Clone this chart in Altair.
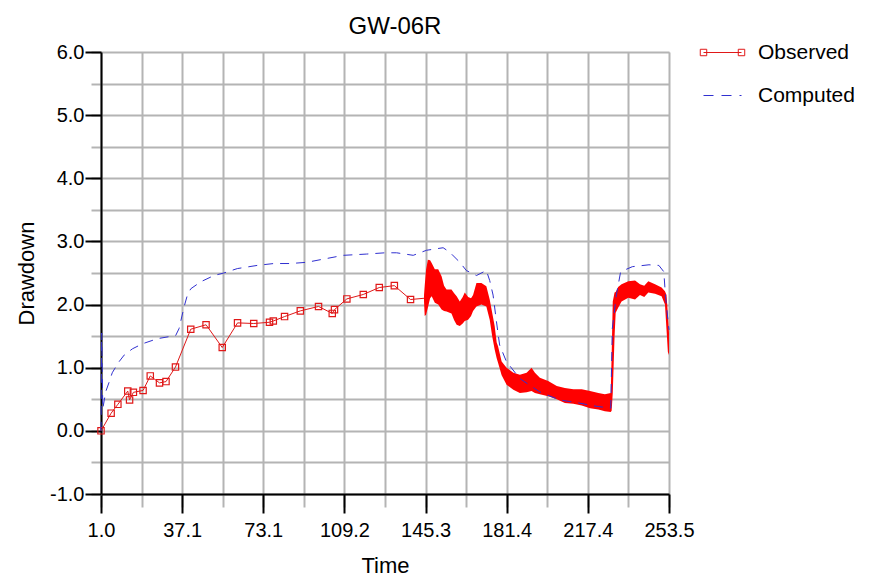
import altair as alt
import pandas as pd

# ---------------- data ----------------
# Observed (sparse, with square markers)
obs_t = [1.0, 5.5, 8.5, 12.9, 13.7, 15.4, 19.7, 22.9, 27.0, 29.9, 34.1, 40.9, 47.7,
         54.9, 61.7, 68.9, 75.9, 77.6, 82.6, 89.6, 97.7, 103.8, 104.8, 110.3, 117.6,
         124.7, 131.4, 138.6]
obs_y = [0.00, 0.28, 0.42, 0.63, 0.49, 0.61, 0.64, 0.87, 0.76, 0.78, 1.01, 1.61, 1.68,
         1.32, 1.71, 1.70, 1.72, 1.74, 1.81, 1.90, 1.97, 1.86, 1.92, 2.09, 2.16,
         2.27, 2.30, 2.08]
# joining segment into the dense record
link_t = [144.6]
link_y = [2.10]

# Observed (dense, high-frequency record): lower / upper envelope
band_t = [144.6, 144.9, 145.5, 146.3, 147.3, 148.0, 149.4, 150.9, 152.4, 153.5, 154.6,
          156.8, 158.0, 159.1, 160.5, 161.8, 162.7, 164.2, 165.5, 166.4, 167.9, 170.1,
          172.3, 173.8, 174.9, 176.0, 176.9, 177.5, 179.1, 181.3, 184.3, 187.2, 190.2,
          192.4, 193.9, 196.1, 199.8, 203.6, 207.2, 211.0, 214.7, 218.4, 222.1, 225.0,
          227.6, 228.0, 228.5, 229.3, 229.8, 230.9, 232.4, 235.4, 238.4, 240.6, 242.5,
          244.3, 247.3, 250.2, 251.7, 252.4, 253.0, 253.5]
band_lo = [2.05, 1.82, 1.84, 1.95, 2.10, 2.13, 2.03, 2.00, 1.92, 1.90, 1.89,
           1.86, 1.75, 1.68, 1.66, 1.70, 1.74, 1.76, 1.82, 1.90, 1.97, 2.00,
           1.97, 1.76, 1.50, 1.29, 1.15, 1.08, 0.88, 0.73, 0.65, 0.60, 0.61,
           0.63, 0.60, 0.58, 0.55, 0.50, 0.44, 0.43, 0.40, 0.36, 0.34, 0.31,
           0.30, 0.32, 0.60, 1.50, 1.87, 1.95, 2.05, 2.11, 2.08, 2.15, 2.12,
           2.19, 2.17, 2.13, 2.00, 1.60, 1.25, 1.20]
band_hi = [2.15, 2.30, 2.55, 2.71, 2.70, 2.66, 2.56, 2.56, 2.45, 2.30, 2.24,
           2.24, 2.18, 2.13, 2.05, 2.12, 2.19, 2.12, 2.10, 2.15, 2.34, 2.34,
           2.29, 2.08, 1.87, 1.66, 1.40, 1.34, 1.10, 1.00, 0.92, 0.89, 0.92,
           1.00, 0.92, 0.84, 0.79, 0.71, 0.68, 0.66, 0.66, 0.63, 0.60, 0.58,
           0.60, 1.20, 2.05, 2.19, 2.20, 2.28, 2.32, 2.37, 2.38, 2.32, 2.30,
           2.37, 2.32, 2.27, 2.21, 2.15, 1.85, 1.55]

# Computed
comp_t = [1.0, 1.3, 1.8, 3.1, 4.6, 6.0, 8.7, 11.3, 15.0, 19.5, 26.1, 34.2, 35.7, 37.9,
          39.4, 40.9, 45.3, 51.2, 55.6, 61.6, 70.4, 77.8, 85.2, 92.6, 99.9, 108.8,
          119.1, 127.3, 132.4, 139.8, 145.7, 153.1, 156.0, 160.5, 163.4, 167.9, 172.3,
          173.8, 175.3, 176.8, 178.2, 181.2, 187.1, 195.9, 204.8, 213.6, 221.0, 227.6,
          228.3, 230.1, 232.0, 237.2, 244.6, 249.0, 251.2, 251.9, 253.1, 253.5]
comp_y = [0.00, 1.55, 0.35, 0.62, 0.77, 0.92, 1.08, 1.20, 1.30, 1.38, 1.46, 1.51, 1.62, 1.96,
          2.15, 2.25, 2.36, 2.46, 2.50, 2.57, 2.62, 2.65, 2.65, 2.67, 2.72, 2.78,
          2.80, 2.82, 2.82, 2.78, 2.86, 2.90, 2.83, 2.67, 2.54, 2.46, 2.54,
          2.38, 2.15, 1.73, 1.36, 1.10, 0.83, 0.62, 0.49, 0.44, 0.39, 0.36,
          1.62, 2.15, 2.52, 2.60, 2.63, 2.62, 2.52, 2.15, 1.73, 1.60]

# axis ticks / grid positions
x_ticks = [1.0, 37.07, 73.14, 109.21, 145.29, 181.36, 217.43, 253.5]
x_grid = [1.0, 19.04, 37.07, 55.11, 73.14, 91.18, 109.21, 127.25, 145.29, 163.32,
          181.36, 199.39, 217.43, 235.46, 253.5]
y_ticks = [-1.0, 0.0, 1.0, 2.0, 3.0, 4.0, 5.0, 6.0]
y_grid = [-1.0, -0.5, 0.0, 0.5, 1.0, 1.5, 2.0, 2.5, 3.0, 3.5, 4.0, 4.5, 5.0, 5.5, 6.0]

# ---------------- chart ----------------
FONT = "Liberation Sans"
W, H = 568, 442
RED = "#ff0000"
LINE_RED = "#e01818"
BLUE = "#3030d0"
GRID = "#b4b4b4"

xs = alt.Scale(domain=[1.0, 253.5], nice=False, zero=False)
ys = alt.Scale(domain=[-1.0, 6.0], nice=False, zero=False)

obs_df = pd.DataFrame({"t": obs_t, "y": obs_y})
obs_line_df = pd.DataFrame({"t": obs_t + link_t, "y": obs_y + link_y})
obs_line_df["series"] = "Observed"
band_df = pd.DataFrame({"t": band_t, "lo": band_lo, "hi": band_hi})
comp_df = pd.DataFrame({"t": comp_t, "y": comp_y})
comp_df["series"] = "Computed"

grid_x_axis = alt.Axis(values=x_grid, grid=True, gridColor=GRID, gridWidth=2,
                       labels=False, ticks=True, tickColor=GRID, tickSize=13, tickWidth=2,
                       domain=False, title=None, orient="bottom")
grid_y_axis = alt.Axis(values=y_grid, grid=True, gridColor=GRID, gridWidth=2,
                       labels=False, ticks=True, tickColor=GRID, tickSize=10, tickWidth=2,
                       domain=False, title=None, orient="left")

main_x_axis = alt.Axis(values=x_ticks, format=".1f", grid=False, orient="bottom",
                       tickColor="black", tickSize=19, tickWidth=2,
                       domain=True, domainColor="black", domainWidth=2,
                       labelFont=FONT, labelFontSize=20, labelColor="black",
                       labelPadding=7, labelFlush=False, labelOverlap=False,
                       title="Time", titleFont=FONT, titleFontSize=22,
                       titleFontWeight="normal", titleColor="black", titlePadding=15)
main_y_axis = alt.Axis(values=y_ticks, grid=False, orient="left",
                       labelExpr="datum.value < 0 ? '-' + format(-datum.value, '.1f') : format(datum.value, '.1f')",
                       tickColor="black", tickSize=16, tickWidth=2,
                       domain=True, domainColor="black", domainWidth=2,
                       labelFont=FONT, labelFontSize=20, labelColor="black",
                       labelPadding=1, labelFlush=False, labelOverlap=False,
                       title="Drawdown", titleFont=FONT, titleFontSize=22,
                       titleFontWeight="normal", titleColor="black", titlePadding=11)

OBS_SYMBOL = "M-1,0H1M-1.17,-0.17H-0.83V0.17H-1.17ZM0.83,-0.17H1.17V0.17H0.83Z"

obs_legend = alt.Legend(title=None, orient="none", legendX=602, legendY=-19,
                        symbolType=OBS_SYMBOL, symbolSize=1444, symbolStrokeWidth=1,
                        symbolFillColor="white", symbolStrokeColor=LINE_RED,
                        labelFont=FONT, labelFontSize=21, labelColor="black",
                        labelOffset=16, padding=0)
comp_legend = alt.Legend(title=None, orient="none", legendX=602, legendY=24,
                         symbolType="stroke", symbolSize=1444, symbolStrokeWidth=1,
                         symbolDash=[10, 8], symbolStrokeColor=BLUE,
                         labelFont=FONT, labelFontSize=21, labelColor="black",
                         labelOffset=16, padding=0)

band = alt.Chart(band_df).mark_area(color=RED, opacity=1).encode(
    x=alt.X("t:Q", scale=xs, axis=grid_x_axis),
    y=alt.Y("lo:Q", scale=ys, axis=grid_y_axis),
    y2="hi:Q",
)

obs_line = alt.Chart(obs_line_df).mark_line(strokeWidth=1).encode(
    x=alt.X("t:Q", scale=xs, axis=main_x_axis),
    y=alt.Y("y:Q", scale=ys, axis=main_y_axis),
    color=alt.Color("series:N", scale=alt.Scale(domain=["Observed"], range=[LINE_RED]),
                    legend=obs_legend),
)

obs_pts = alt.Chart(obs_df).mark_point(shape="square", filled=False, size=40,
                                       strokeWidth=1.2, color=LINE_RED, opacity=1).encode(
    x=alt.X("t:Q", scale=xs, axis=None),
    y=alt.Y("y:Q", scale=ys, axis=None),
)

comp_line = alt.Chart(comp_df).mark_line(strokeWidth=1, strokeDash=[9, 7]).encode(
    x=alt.X("t:Q", scale=xs, axis=None),
    y=alt.Y("y:Q", scale=ys, axis=None),
    color=alt.Color("series:N", scale=alt.Scale(domain=["Computed"], range=[BLUE]),
                    legend=comp_legend),
)

chart = alt.layer(band, obs_line, obs_pts, comp_line).resolve_scale(
    color="independent"
).resolve_axis(
    x="independent", y="independent"
).properties(
    width=W, height=H,
    title=alt.Title("GW-06R", font=FONT, fontSize=24, fontWeight="normal",
                    color="black", frame="group", baseline="alphabetic",
                    offset=0, dx=10, dy=25),
    autosize=alt.AutoSizeParams(type="none"),
    padding={"left": 93, "top": 44, "right": 198, "bottom": 82},
).configure_view(
    stroke="black", strokeWidth=2, fill="white"
).configure(background="white")

chart.save("out.html", embed_options={"renderer": "svg", "actions": False})
